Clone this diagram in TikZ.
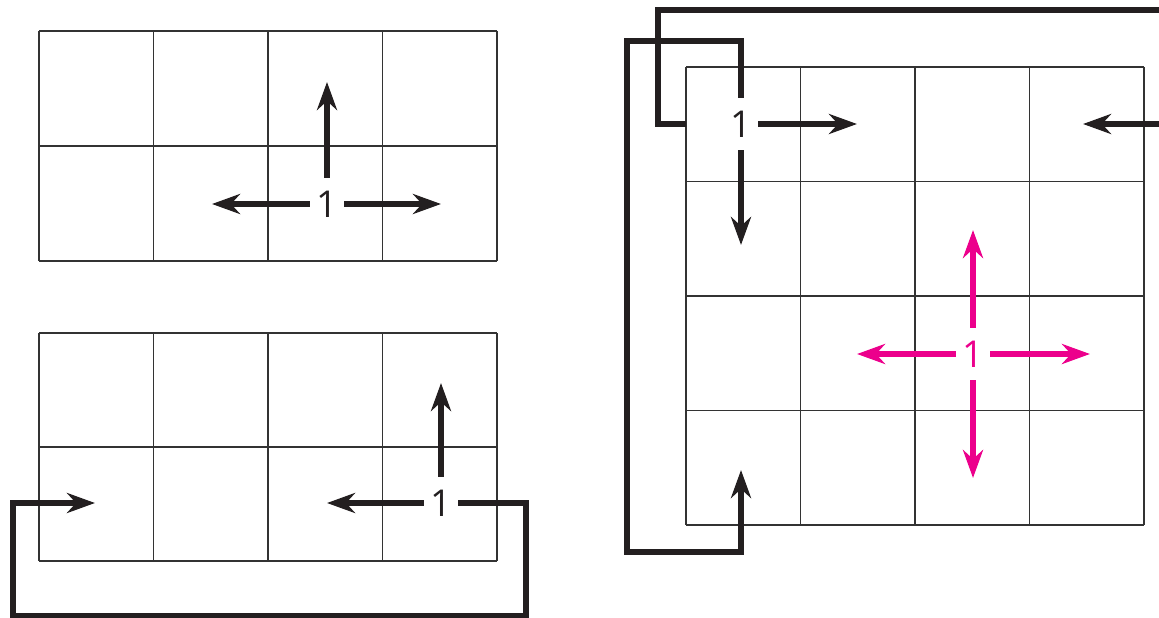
\documentclass[tikz,border=0pt]{standalone}
\usepackage{fontspec}
\setsansfont{Open Sans}
\usetikzlibrary{arrows.meta}
\definecolor{ink}{HTML}{231F20}
\definecolor{gridline}{HTML}{333333}
\definecolor{magenta}{HTML}{EC008C}
\tikzset{
  gridlines/.style={draw=gridline, line width=1.5pt},
  move/.style={draw=ink, line width=5.5pt, line cap=butt, miter limit=10,
    -{Stealth[length=28pt, width=20pt, inset=9pt]}},
  wrap/.style={draw=ink, line width=5.5pt, line cap=butt, line join=miter},
  pinkmove/.style={move, draw=magenta, color=magenta},
  seed/.style={inner sep=0pt, minimum width=34pt, minimum height=52pt,
    font=\sffamily\fontsize{37}{40}\selectfont, text=ink},
}
\begin{document}
\begin{tikzpicture}[x=1pt, y=-1pt]
\useasboundingbox (0,0) rectangle (1159,618);

% ---- upper left: 4 x 2 board ----
\foreach \c in {0,...,4} \draw[gridlines] (39+114.5*\c,31) -- (39+114.5*\c,261);
\foreach \r in {0,1,2} \draw[gridlines] (39,31+115*\r) -- (497,31+115*\r);
\node[seed] (a) at (327,204) {1};
\coordinate (aU) at (327,82);
\coordinate (aL) at (212,204);
\coordinate (aR) at (441,204);
\draw[move] (a.north) -- (aU);
\draw[move] (a.west) -- (aL);
\draw[move] (a.east) -- (aR);

% ---- lower left: 4 x 2 board, wrapping to the right ----
\foreach \c in {0,...,4} \draw[gridlines] (39+114.5*\c,333) -- (39+114.5*\c,561);
\foreach \r in {0,1,2} \draw[gridlines] (39,333+114*\r) -- (497,333+114*\r);
\node[seed] (b) at (441,503) {1};
\coordinate (bU) at (441,383);
\coordinate (bL) at (327,503);
\coordinate (bW) at (95,503);
\draw[move] (b.north) -- (bU);
\draw[move] (b.west) -- (bL);
\draw[wrap] (b.east) -- (526,503) -- (526,616) -- (13,616) -- (13,503) -- (30,503);
\draw[move] (13,503) -- (bW);

% ---- right: 4 x 4 board ----
\foreach \c in {0,...,4} \draw[gridlines] (686+114.5*\c,67) -- (686+114.5*\c,525);
\foreach \r in {0,...,4} \draw[gridlines] (686,67+114.5*\r) -- (1144,67+114.5*\r);

% corner cell, wrapping left and up
\node[seed] (c) at (741,124) {1};
\coordinate (cR) at (857,124);
\coordinate (cD) at (741,245);
\coordinate (cEdge) at (686,124);
\coordinate (cIn) at (1083,124);
\coordinate (cUp) at (741,470);
\draw[move] (c.east) -- (cR);
\draw[move] (c.south) -- (cD);
\draw[wrap] (cEdge) -- (658,124) -- (658,10) -- (1170,10);
\draw[move] (1170,124) -- (cIn);
\draw[wrap] (c.north) -- (741,41) -- (627,41) -- (627,552) -- (741,552) -- (741,540);
\draw[move] (741,552) -- (cUp);

% interior cell
\node[seed, text=magenta] (d) at (973,354) {1};
\coordinate (dU) at (973,230);
\coordinate (dD) at (973,478);
\coordinate (dL) at (857,354);
\coordinate (dR) at (1090,354);
\draw[pinkmove] (d.north) -- (dU);
\draw[pinkmove] (d.south) -- (dD);
\draw[pinkmove] (d.west) -- (dL);
\draw[pinkmove] (d.east) -- (dR);
\end{tikzpicture}
\end{document}
